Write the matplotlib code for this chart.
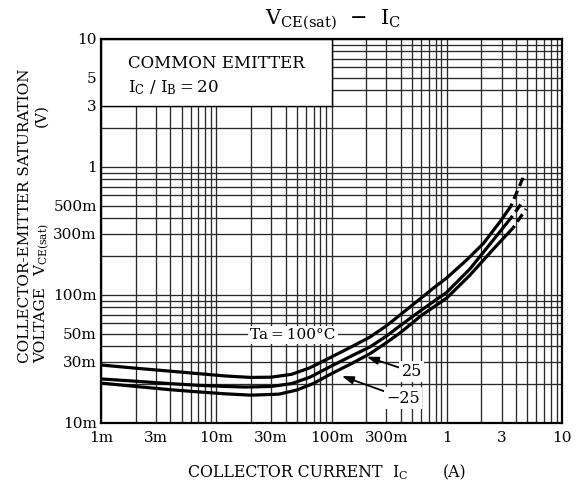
import numpy as np
import matplotlib
matplotlib.use('Agg')
import matplotlib.pyplot as plt
from matplotlib.patches import Rectangle

plt.rcParams['font.family'] = ['DejaVu Serif']
plt.rcParams['mathtext.default'] = 'regular'

# ---------------- data ----------------
# Ta = 100 C
ic_100 = [0.001, 0.002, 0.004, 0.007, 0.012, 0.02, 0.03, 0.045, 0.065, 0.1, 0.15, 0.216,
          0.3, 0.393, 0.548, 0.764, 1.0, 1.49, 2.08, 2.90, 3.61]
vce_100 = [0.0284, 0.0268, 0.0254, 0.0243, 0.0233, 0.0227, 0.0228, 0.0240, 0.0270, 0.0328,
           0.0395, 0.047, 0.0575, 0.0698, 0.0887, 0.113, 0.136, 0.188, 0.253, 0.374, 0.496]
ic_100_ext = [3.61, 4.78]
vce_100_ext = [0.496, 0.898]

# Ta = 25 C
ic_25 = [0.001, 0.002, 0.004, 0.007, 0.012, 0.018, 0.03, 0.045, 0.065, 0.1, 0.15, 0.216,
         0.3, 0.393, 0.6, 1.0, 1.59, 2.5, 3.61]
vce_25 = [0.0221, 0.0212, 0.0203, 0.0197, 0.0193, 0.0191, 0.0193, 0.0203, 0.0228, 0.0279,
          0.0335, 0.0393, 0.0478, 0.0575, 0.0760, 0.105, 0.160, 0.265, 0.40]
ic_25_ext = [3.61, 4.68]
vce_25_ext = [0.40, 0.552]

# Ta = -25 C
ic_m25 = [0.001, 0.002, 0.004, 0.007, 0.012, 0.02, 0.035, 0.05, 0.07, 0.1, 0.15, 0.216,
          0.3, 0.393, 0.6, 1.0, 1.59, 2.5, 3.76]
vce_m25 = [0.0205, 0.0193, 0.0182, 0.0175, 0.0169, 0.0165, 0.0168, 0.0181, 0.0204, 0.0243,
           0.0292, 0.0348, 0.0425, 0.0505, 0.069, 0.0947, 0.143, 0.225, 0.334]
ic_m25_ext = [3.76, 4.87]
vce_m25_ext = [0.334, 0.47]

x_ticks = [0.001, 0.003, 0.01, 0.03, 0.1, 0.3, 1, 3, 10]
x_labels = ['1m', '3m', '10m', '30m', '100m', '300m', '1', '3', '10']
y_ticks = [0.01, 0.03, 0.05, 0.1, 0.3, 0.5, 1, 3, 5, 10]
y_labels = ['10m', '30m', '50m', '100m', '300m', '500m', '1', '3', '5', '10']

# ---------------- figure ----------------
W, H = 584, 488
fig = plt.figure(figsize=(W / 100, H / 100), dpi=100)
ax = fig.add_axes([101 / W, (H - 423) / H, 461 / W, 384 / H])
ax.set_xscale('log')
ax.set_yscale('log')
ax.set_xlim(1e-3, 10)
ax.set_ylim(1e-2, 10)

# grid at every 1..9 multiple
minor_x = [m * 10.0 ** e for e in range(-3, 1) for m in range(1, 10)]
minor_y = [m * 10.0 ** e for e in range(-2, 1) for m in range(1, 10)]
ax.set_xticks(minor_x, minor=True)
ax.set_yticks(minor_y, minor=True)
ax.set_xticks(x_ticks)
ax.set_xticklabels(x_labels)
ax.set_yticks(y_ticks)
ax.set_yticklabels(y_labels)
ax.xaxis.set_minor_formatter(plt.NullFormatter())
ax.yaxis.set_minor_formatter(plt.NullFormatter())
ax.tick_params(which='both', length=0)
ax.tick_params(axis='x', pad=6, labelsize=11)
ax.tick_params(axis='y', pad=3, labelsize=11)
ax.set_axisbelow(True)
ax.grid(which='both', color='#2a2a2a', lw=0.95)
for s in ax.spines.values():
    s.set_linewidth(1.6)
    s.set_zorder(5)

# white box for the conditions
ax.add_patch(Rectangle((1e-3, 3), 0.1 - 1e-3, 10 - 3, facecolor='white',
                       edgecolor='black', lw=1.0, zorder=1.5))
ax.text(0.0586, 0.9245, 'COMMON EMITTER', transform=ax.transAxes,
        fontsize=12, ha='left', va='baseline', zorder=6)
ax.text(0.0586, 0.862, 'I$_{C}$ / I$_{B}$\u2009=\u200920', transform=ax.transAxes,
        fontsize=12, ha='left', va='baseline', zorder=6)

# curves
lw = 2.3
for ic, v, ice, ve in [(ic_100, vce_100, ic_100_ext, vce_100_ext),
                       (ic_25, vce_25, ic_25_ext, vce_25_ext),
                       (ic_m25, vce_m25, ic_m25_ext, vce_m25_ext)]:
    ax.plot(ic, v, color='black', lw=lw, zorder=3, solid_capstyle='butt',
            solid_joinstyle='round')
    ax.plot(ice, ve, color='black', lw=lw, zorder=3,
            linestyle=(2.0, (2.8, 1.6)), dash_capstyle='butt')

# labels on curves
bbox = dict(facecolor='white', edgecolor='none', pad=1.5)
ax.text(0.0463, 0.0487, 'Ta\u2009=\u2009100\u00b0C', fontsize=11, ha='center',
        va='center', bbox=bbox, zorder=4)

arrow = dict(arrowstyle='-|>,head_length=0.6,head_width=0.2', color='black',
             lw=1.3, shrinkA=0, shrinkB=0)
ax.annotate('25', xy=(0.202, 0.0329), xytext=(0.496, 0.02516),
            fontsize=11.5, ha='center', va='center', bbox=bbox, arrowprops=arrow, zorder=4)
ax.annotate('\u221225', xy=(0.1227, 0.0233), xytext=(0.417, 0.01567),
            fontsize=11.5, ha='center', va='center', bbox=bbox, arrowprops=arrow, zorder=4)

# title
fig.text(265 / W, 1 - 24 / H, 'V$_{CE(sat)}$  \u2212  I$_{C}$', fontsize=15,
         ha='left', va='baseline')

# x label
fig.text(188 / W, 1 - 477 / H, 'COLLECTOR CURRENT', fontsize=11.3, ha='left', va='baseline')
fig.text(392 / W, 1 - 477 / H, 'I$_{C}$', fontsize=11.3, ha='left', va='baseline')
fig.text(443 / W, 1 - 477 / H, '(A)', fontsize=11.3, ha='left', va='baseline')

# y label
ykw = dict(fontsize=11, rotation=90, rotation_mode='anchor', ha='left', va='baseline')
fig.text(29 / W, 1 - 363 / H, 'COLLECTOR-EMITTER SATURATION', **ykw)
fig.text(45 / W, 1 - 363 / H, 'VOLTAGE', **ykw)
fig.text(45 / W, 1 - 276 / H, 'V$_{CE(sat)}$', **ykw)
fig.text(45 / W, 1 - 127 / H, '(V)', **ykw)

fig.savefig('out.png', dpi=100)
